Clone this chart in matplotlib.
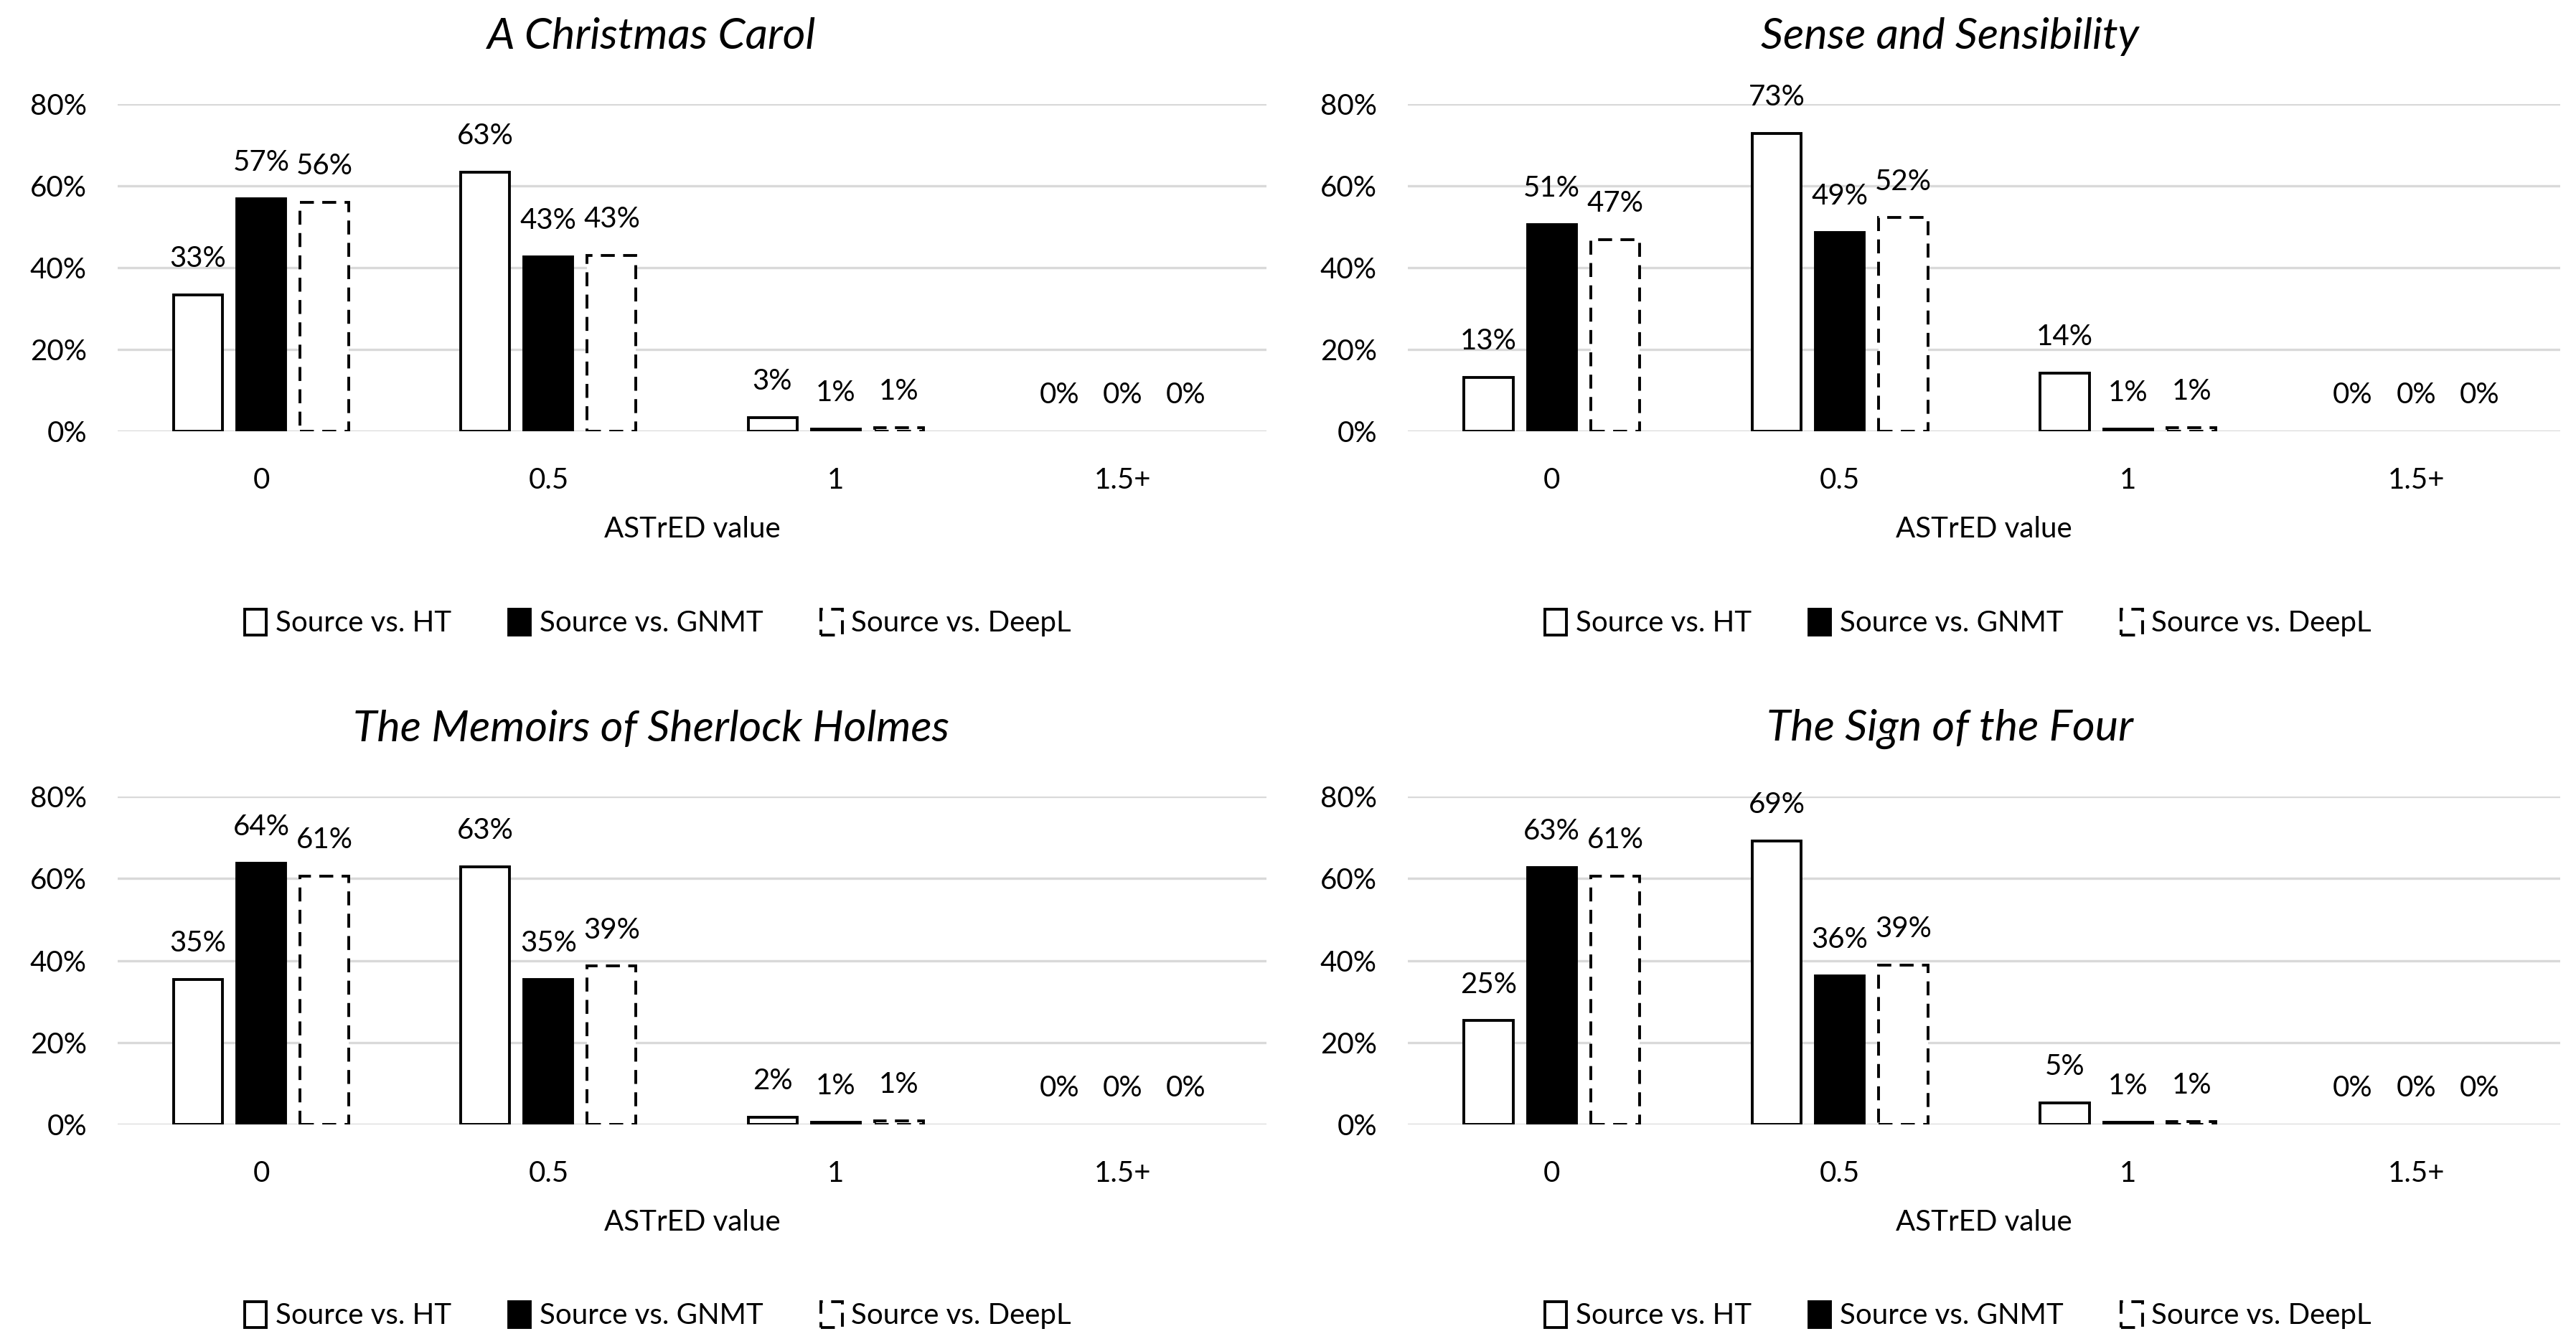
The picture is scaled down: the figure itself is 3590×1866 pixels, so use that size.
import matplotlib.pyplot as plt
from matplotlib.patches import Patch
import numpy as np

plt.rcParams['font.family'] = ['Lato', 'DejaVu Sans']

categories = ['0', '0.5', '1', '1.5+']
series_names = ['Source vs. HT', 'Source vs. GNMT', 'Source vs. DeepL']

titles = ['A Christmas Carol', 'Sense and Sensibility',
          'The Memoirs of Sherlock Holmes', 'The Sign of the Four']

# percentages per category (0, 0.5, 1, 1.5+)
carol_ht = [33.4, 63.4, 3.4, 0]
carol_gnmt = [56.8, 42.6, 0.6, 0]
carol_deepl = [56.0, 43.0, 0.8, 0]

sense_ht = [13.2, 72.8, 14.2, 0]
sense_gnmt = [50.6, 48.6, 0.6, 0]
sense_deepl = [46.8, 52.2, 0.8, 0]

holmes_ht = [35.3, 62.8, 1.8, 0]
holmes_gnmt = [63.8, 35.4, 0.6, 0]
holmes_deepl = [60.6, 38.6, 0.8, 0]

four_ht = [25.3, 69.2, 5.2, 0]
four_gnmt = [62.7, 36.2, 0.6, 0]
four_deepl = [60.6, 38.8, 0.7, 0]

panels = [
    (carol_ht, carol_gnmt, carol_deepl),
    (sense_ht, sense_gnmt, sense_deepl),
    (holmes_ht, holmes_gnmt, holmes_deepl),
    (four_ht, four_gnmt, four_deepl),
]

W, H = 3590, 1866
fig = plt.figure(figsize=(W / 100, H / 100), dpi=100)

# axes boxes in pixels: left, right, top, bottom
boxes = [(164, 1765, 145, 601), (1962, 3568, 145, 601),
         (164, 1765, 1110, 1567), (1962, 3568, 1110, 1567)]
title_x = [908, 2717, 908, 2717]
legend_x = [917, 2729, 917, 2729]
legend_y = [868, 868, 1833, 1833]

FS = 29
LW = 2.8
styles = [dict(facecolor='white', edgecolor='black', linestyle='-'),
          dict(facecolor='black', edgecolor='black', linestyle='-'),
          dict(facecolor='white', edgecolor='black', linestyle=(0, (5, 3)))]

x = np.arange(len(categories))
offsets = [-0.22, 0.0, 0.22]
width = 0.17

for i, (vals, box) in enumerate(zip(panels, boxes)):
    l, r, t, b = box
    ax = fig.add_axes([l / W, 1 - b / H, (r - l) / W, (b - t) / H])
    for j, series in enumerate(vals):
        s = np.array(series) / 100
        bars = ax.bar(x + offsets[j], s, width, linewidth=LW, zorder=3, **styles[j])
        for p, v in zip(bars, s):
            if v == 0:
                p.set_visible(False)
        for xi, v, raw in zip(x + offsets[j], s, series):
            ax.annotate(f'{raw:.0f}%', (xi, v), xytext=(0, 23), textcoords='offset points',
                        ha='center', va='bottom', fontsize=FS, clip_on=False)
    ax.set_xlim(-0.5, 3.5)
    ax.set_ylim(0, 0.8)
    ax.set_yticks([0, 0.2, 0.4, 0.6, 0.8])
    ax.set_yticklabels(['0%', '20%', '40%', '60%', '80%'])
    ax.set_xticks(x)
    ax.set_xticklabels(categories)
    ax.tick_params(axis='y', length=0, pad=31, labelsize=FS)
    ax.tick_params(axis='x', length=0, pad=36, labelsize=FS)
    ax.grid(axis='y', color='#d9d9d9', linewidth=2.4, zorder=0)
    for sp in ax.spines.values():
        sp.set_visible(False)
    ax.set_xlabel('ASTrED value', fontsize=FS, labelpad=22)

    fig.text(title_x[i] / W, 1 - (t - 94) / H, titles[i], ha='center', va='center',
             fontsize=44, style='italic')

    handles = [Patch(linewidth=LW, **st) for st in styles]
    fig.legend(handles, series_names, loc='center',
               bbox_to_anchor=(legend_x[i] / W, 1 - legend_y[i] / H),
               ncol=3, frameon=False, fontsize=FS, handlelength=0.75, handleheight=1.0,
               handletextpad=0.3, columnspacing=2.0)

plt.savefig('out.png', dpi=100)
